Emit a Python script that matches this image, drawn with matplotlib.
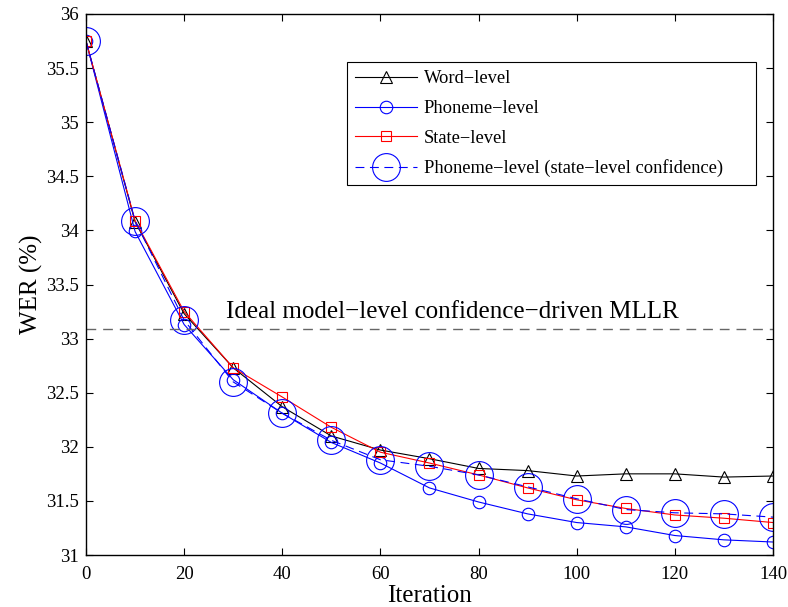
import matplotlib
matplotlib.use("Agg")
import matplotlib.pyplot as plt

plt.rcParams['font.family'] = ['Liberation Serif', 'DejaVu Serif']
plt.rcParams['mathtext.fontset'] = 'stix'

iterations = [0, 10, 20, 30, 40, 50, 60, 70, 80, 90, 100, 110, 120, 130, 140]
word_level = [35.75, 34.08, 33.23, 32.73, 32.37, 32.10, 31.97, 31.89, 31.80, 31.78, 31.73, 31.75, 31.75, 31.72, 31.73]
phoneme_level = [35.75, 33.99, 33.13, 32.62, 32.31, 32.04, 31.85, 31.62, 31.49, 31.38, 31.30, 31.26, 31.18, 31.14, 31.12]
state_level = [35.75, 34.09, 33.25, 32.73, 32.46, 32.18, 31.95, 31.85, 31.74, 31.62, 31.51, 31.43, 31.37, 31.34, 31.30]
phoneme_state_conf = [35.75, 34.09, 33.17, 32.60, 32.31, 32.06, 31.88, 31.82, 31.74, 31.63, 31.52, 31.42, 31.39, 31.38, 31.35]
ideal_wer = 33.09

fig = plt.figure(figsize=(7.88, 6.07), dpi=100)
ax = fig.add_axes([86 / 788, 1 - 555 / 607, 687 / 788, 541 / 607])

ax.plot(iterations, word_level, color='black', lw=0.8, marker='^', ms=9,
        mfc='none', mec='black', mew=0.8, label='Word\u2212level')
ax.plot(iterations, phoneme_level, color='blue', lw=0.8, marker='o', ms=9,
        mfc='none', mec='blue', mew=0.8, label='Phoneme\u2212level')
ax.plot(iterations, state_level, color='red', lw=0.8, marker='s', ms=7,
        mfc='none', mec='red', mew=0.8, label='State\u2212level')
ax.plot(iterations, phoneme_state_conf, color='blue', lw=0.8, ls=(0, (8, 5)), marker='o', ms=20,
        mfc='none', mec='blue', mew=0.8, label='Phoneme\u2212level (state\u2212level confidence)')
ax.plot([0, 140], [ideal_wer, ideal_wer], color='#666666', lw=1.0, ls=(0, (7, 5)))
ax.text(74.6, ideal_wer + 0.055, 'Ideal model\u2212level confidence\u2212driven MLLR',
        ha='center', va='bottom', fontsize=18)

ax.set_xlim(0, 140)
ax.set_ylim(31, 36)
ax.set_xticks(range(0, 141, 20))
ax.set_yticks([31, 31.5, 32, 32.5, 33, 33.5, 34, 34.5, 35, 35.5, 36])
ax.set_yticklabels(['31', '31.5', '32', '32.5', '33', '33.5', '34', '34.5', '35', '35.5', '36'])
ax.tick_params(direction='in', top=True, right=True, labelsize=13.5, length=5, width=0.8, pad=5)
ax.tick_params(axis='x', pad=8)
for s in ax.spines.values():
    s.set_linewidth(1.0)
ax.set_xlabel('Iteration', fontsize=18, labelpad=1)
ax.set_ylabel('WER (%)', fontsize=18, labelpad=2)

leg = ax.legend(loc='upper left', bbox_to_anchor=(0.380, 0.684, 0.595, 0.227), mode='expand',
                fontsize=13.3, fancybox=False, edgecolor='black', framealpha=1, borderpad=0.45,
                borderaxespad=0, handlelength=3.35, handletextpad=0.35, labelspacing=0.68)
leg.get_frame().set_linewidth(0.8)

fig.savefig('out.png', dpi=100)
